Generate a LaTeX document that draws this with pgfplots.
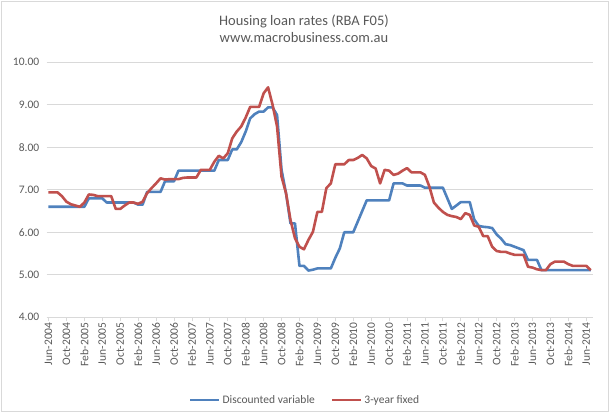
\documentclass[border=0pt]{standalone}
\usepackage{fontspec}
\setmainfont{Carlito}
\usepackage{pgfplots}
\pgfplotsset{compat=1.18}
\definecolor{txt}{HTML}{595959}
\definecolor{blu}{HTML}{4F81BD}
\definecolor{rd}{HTML}{C0504D}
\definecolor{grd}{HTML}{D9D9D9}

\begin{document}
\begin{tikzpicture}
\path[use as bounding box] (0,0) rectangle (610bp,412bp);
\draw[grd, line width=0.75bp] (1.5bp,0.5bp) rectangle (608.5bp,410.5bp);
\node[txt, font=\fontsize{14.5bp}{17bp}\selectfont, align=center] at (304bp,383.5bp)
  {Housing loan rates (RBA F05)\\www.macrobusiness.com.au};
\begin{axis}[
  at={(46.7bp,94.7bp)}, anchor=south west, scale only axis,
  width=546.3bp, height=255bp,
  xmin=-0.4, xmax=121.5, ymin=4, ymax=10,
  axis x line=bottom, axis y line=left,
  x axis line style={-, color=grd, line width=0.75bp},
  y axis line style={draw=none},
  ytick={4,5,...,10},
  ytick style={draw=none},
  xtick={0,4,...,120},
  xtick style={color=grd, line width=0.75bp},
  tick align=outside, major tick length=4bp,
  xticklabels={Jun-2004,Oct-2004,Feb-2005,Jun-2005,Oct-2005,Feb-2006,Jun-2006,Oct-2006,Feb-2007,Jun-2007,Oct-2007,Feb-2008,Jun-2008,Oct-2008,Feb-2009,Jun-2009,Oct-2009,Feb-2010,Jun-2010,Oct-2010,Feb-2011,Jun-2011,Oct-2011,Feb-2012,Jun-2012,Oct-2012,Feb-2013,Jun-2013,Oct-2013,Feb-2014,Jun-2014},
  x tick label style={rotate=90, anchor=east, text=txt, font=\fontsize{11.5bp}{13bp}\selectfont, inner sep=1bp},
  y tick label style={text=txt, font=\fontsize{11.5bp}{13bp}\selectfont},
  yticklabel style={/pgf/number format/.cd, fixed, fixed zerofill, precision=2, assume math mode=true},
  ymajorgrids, major grid style={color=grd, line width=0.75bp},
  legend columns=2,
  legend style={at={(0.473,-0.325)}, anchor=center, draw=none, fill=none, text=txt,
    font=\fontsize{11.5bp}{13bp}\selectfont,
    /tikz/every even column/.append style={column sep=14bp}},
  legend image code/.code={\draw[#1] (0bp,0bp) -- (29bp,0bp);},
  every axis plot/.append style={line width=2.6bp, line join=round, mark=none},
]
\addplot[blu] coordinates {
(0,6.60)(1,6.60)(2,6.60)(3,6.60)(4,6.60)(5,6.60)(6,6.60)(7,6.60)(8,6.60)(9,6.80)
(10,6.80)(11,6.80)(12,6.80)(13,6.70)(14,6.70)(15,6.70)(16,6.70)(17,6.70)(18,6.70)(19,6.70)
(20,6.65)(21,6.65)(22,6.95)(23,6.95)(24,6.95)(25,6.95)(26,7.20)(27,7.20)(28,7.20)(29,7.45)
(30,7.45)(31,7.45)(32,7.45)(33,7.45)(34,7.45)(35,7.45)(36,7.45)(37,7.45)(38,7.70)(39,7.70)
(40,7.70)(41,7.95)(42,7.95)(43,8.12)(44,8.37)(45,8.68)(46,8.78)(47,8.84)(48,8.84)(49,8.94)
(50,8.94)(51,8.76)(52,7.47)(53,6.92)(54,6.21)(55,6.21)(56,5.21)(57,5.21)(58,5.10)(59,5.12)
(60,5.15)(61,5.15)(62,5.15)(63,5.15)(64,5.40)(65,5.62)(66,6.00)(67,6.00)(68,6.00)(69,6.25)
(70,6.50)(71,6.75)(72,6.75)(73,6.75)(74,6.75)(75,6.75)(76,6.75)(77,7.15)(78,7.15)(79,7.15)
(80,7.10)(81,7.10)(82,7.10)(83,7.10)(84,7.05)(85,7.05)(86,7.05)(87,7.05)(88,7.05)(89,6.80)
(90,6.55)(91,6.63)(92,6.71)(93,6.71)(94,6.71)(95,6.30)(96,6.15)(97,6.13)(98,6.12)(99,6.10)
(100,5.95)(101,5.85)(102,5.72)(103,5.70)(104,5.66)(105,5.62)(106,5.58)(107,5.35)(108,5.35)(109,5.35)
(110,5.11)(111,5.11)(112,5.11)(113,5.11)(114,5.11)(115,5.11)(116,5.11)(117,5.11)(118,5.11)(119,5.11)
(120,5.11)(121,5.11)
};
\addlegendentry{Discounted variable}
\addplot[rd] coordinates {
(0,6.94)(1,6.94)(2,6.94)(3,6.85)(4,6.72)(5,6.66)(6,6.63)(7,6.60)(8,6.70)(9,6.89)
(10,6.88)(11,6.85)(12,6.85)(13,6.85)(14,6.85)(15,6.55)(16,6.55)(17,6.63)(18,6.70)(19,6.70)
(20,6.67)(21,6.72)(22,6.92)(23,7.04)(24,7.15)(25,7.27)(26,7.24)(27,7.25)(28,7.25)(29,7.25)
(30,7.28)(31,7.29)(32,7.29)(33,7.29)(34,7.47)(35,7.47)(36,7.47)(37,7.66)(38,7.80)(39,7.74)
(40,7.86)(41,8.21)(42,8.37)(43,8.49)(44,8.70)(45,8.95)(46,8.95)(47,8.95)(48,9.27)(49,9.41)
(50,9.00)(51,8.49)(52,7.31)(53,6.92)(54,6.29)(55,5.86)(56,5.66)(57,5.60)(58,5.82)(59,6.01)
(60,6.48)(61,6.48)(62,7.04)(63,7.15)(64,7.60)(65,7.60)(66,7.60)(67,7.70)(68,7.70)(69,7.75)
(70,7.82)(71,7.74)(72,7.56)(73,7.50)(74,7.15)(75,7.47)(76,7.45)(77,7.35)(78,7.38)(79,7.45)
(80,7.51)(81,7.41)(82,7.41)(83,7.41)(84,7.35)(85,7.07)(86,6.70)(87,6.58)(88,6.48)(89,6.41)
(90,6.38)(91,6.36)(92,6.31)(93,6.45)(94,6.41)(95,6.16)(96,6.13)(97,5.91)(98,5.91)(99,5.66)
(100,5.56)(101,5.54)(102,5.54)(103,5.50)(104,5.47)(105,5.47)(106,5.47)(107,5.19)(108,5.17)(109,5.13)
(110,5.11)(111,5.11)(112,5.25)(113,5.31)(114,5.31)(115,5.31)(116,5.25)(117,5.21)(118,5.21)(119,5.21)
(120,5.21)(121,5.11)
};
\addlegendentry{3-year fixed}
\end{axis}
\end{tikzpicture}
\end{document}
